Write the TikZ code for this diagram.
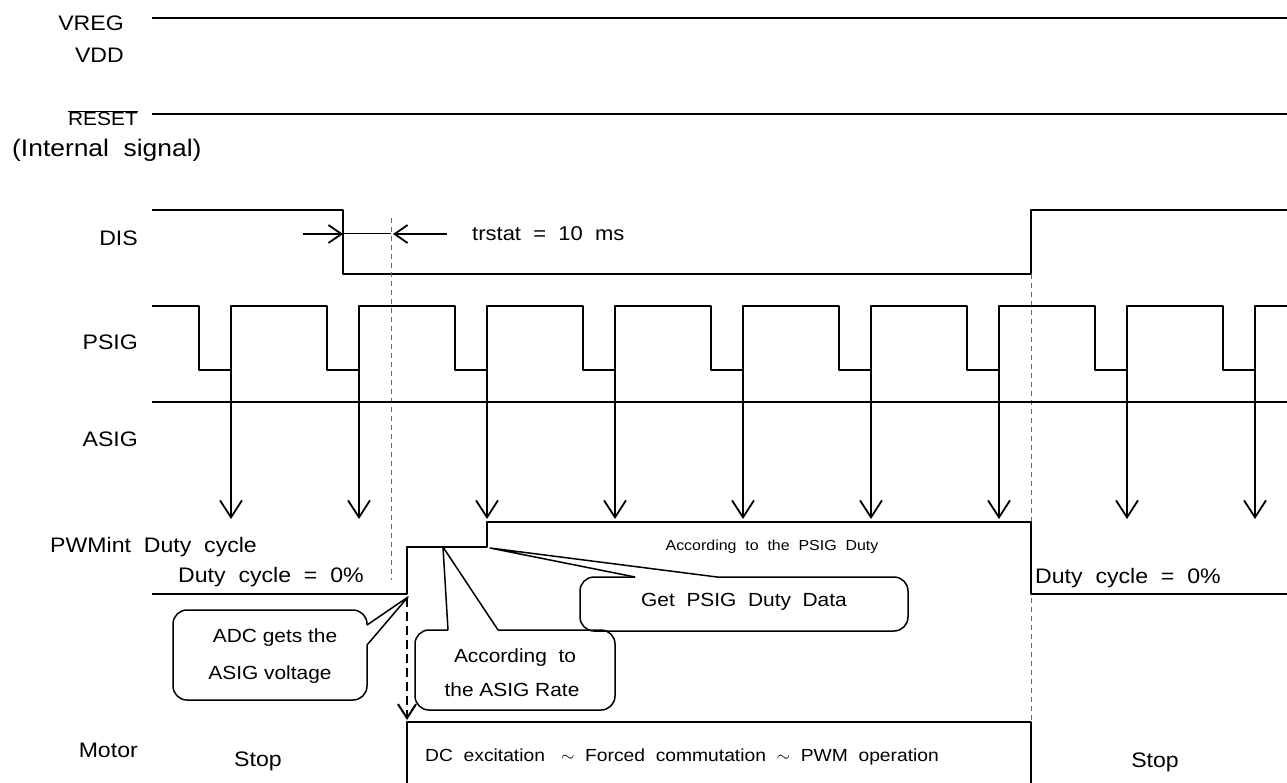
\documentclass[tikz,border=0pt]{standalone}
\usepackage{fontspec}
\setmainfont{Liberation Sans}[FakeStretch=1.1]
\usetikzlibrary{arrows.meta}
\begin{document}
\begin{tikzpicture}[x=1pt,y=-1pt,line join=round]
\tikzset{
  lab/.style={font=\fontsize{21}{25}\selectfont, inner sep=0pt},
  sig/.style={line width=2pt},
  tickarrow/.style={line width=1.8pt,-{Straight Barb[length=17pt,width=22pt]}},
  measarrow/.style={line width=1.8pt,-{Straight Barb[length=13pt,width=18pt]}},
  gdash/.style={line width=1pt,draw=black!60,dash pattern=on 5pt off 4pt},
  callout/.style={line width=1.5pt,rounded corners=14pt},
  wedge/.style={line width=1.5pt},
  ctext/.style={font=\fontsize{19}{23}\selectfont, inner sep=0pt, anchor=base},
}
\useasboundingbox (0,0) rectangle (1287,783);

% ---- labels ----
\node[lab,anchor=base east] (lvreg) at (124,31) {VREG};
\node[lab,anchor=base east] (lvdd) at (124,63) {VDD};
\node[lab,anchor=base east,font=\fontsize{19}{23}\selectfont] (lreset) at (138,126) {$\overline{\mbox{RESET}}$};
\node[lab,anchor=base west,font=\fontsize{24}{28}\selectfont] (lint) at (12,157) {(Internal\ \ signal)};
\node[lab,anchor=base east] (ldis) at (138,246) {DIS};
\node[lab,anchor=base east] (lpsig) at (138,349) {PSIG};
\node[lab,anchor=base east] (lasig) at (138,446) {ASIG};
\node[lab,anchor=base west] (lpwm) at (50,552) {PWMint\ \ Duty\ \ cycle};
\node[lab,anchor=base west] (dc0l) at (178,582) {Duty\ \ cycle\ \ =\ \ 0\%};
\node[lab,anchor=base west] (dc0r) at (1035,583) {Duty\ \ cycle\ \ =\ \ 0\%};
\node[lab,anchor=base east] (lmotor) at (138,757) {Motor};
\node[lab,anchor=base] (stopl) at (258,766) {Stop};
\node[lab,anchor=base] (stopr) at (1155,767) {Stop};
\node[lab,anchor=base west,font=\fontsize{17.5}{21}\selectfont] (dcex) at (425,761)
  {DC\ \ excitation\ \ \ $\sim$\ \ Forced\ \ commutation\ \ $\sim$\ \ PWM\ \ operation};
\node[lab,anchor=base,font=\fontsize{14.5}{18}\selectfont] (accp) at (772,550) {According\ \ to\ \ the\ \ PSIG\ \ Duty};
\node[lab,anchor=base west,font=\fontsize{20}{24}\selectfont] (trs) at (472,241) {trstat\ \ =\ \ 10\ \ ms};

% ---- supply / reset ----
\draw[sig] (152,18) -- (1287,18);
\draw[sig] (152,114) -- (1287,114);

% ---- DIS ----
\draw[sig] (152,210) -- (343,210) -- (343,274) -- (1031,274) -- (1031,210) -- (1287,210);
\coordinate (mL) at (343,234);
\coordinate (mR) at (391,234);
\coordinate (mLs) at (303,234);
\coordinate (mRs) at (447,234);
\draw[line width=1pt] (mL) -- (mR);
\draw[measarrow] (mLs) -- (mL);
\draw[measarrow] (mRs) -- ([xshift=2pt]mR);

% ---- dashed guides ----
\draw[gdash] (391,218) -- (391,580);
\draw[gdash] (1031,274) -- (1031,722);

% ---- PSIG ----
\draw[sig] (152,306) \foreach \k in {0,...,8} {
   -- ({199+128*\k},306) -- ({199+128*\k},370) -- ({231+128*\k},370) -- ({231+128*\k},306) } -- (1287,306);

% ---- ASIG ----
\draw[sig] (152,402) -- (1287,402);

% ---- sampling arrows ----
\foreach \k in {0,...,8} {
  \coordinate (ta\k) at ({231+128*\k},370);
  \coordinate (tb\k) at ({231+128*\k},519);
  \draw[tickarrow] (ta\k) -- (tb\k);
}

% ---- PWMint duty ----
\draw[sig] (152,594) -- (407,594) -- (407,547) -- (487,547) -- (487,522) -- (1031,522) -- (1031,594) -- (1287,594);

% ---- motor ----
\draw[sig] (407,783) -- (407,722) -- (1031,722) -- (1031,783);
\coordinate (dA) at (407,598);
\coordinate (dB) at (407,720);
\draw[line width=2pt,dash pattern=on 9pt off 5pt,-{Straight Barb[length=14pt,width=18pt]}] (dA) -- (dB);

% ---- callout: ADC gets the ASIG voltage ----
\coordinate (c1tip) at (408,597);
\draw[callout] (367,625) -- (367,610) -- (173,610) -- (173,700) -- (367,700) -- (367,645);
\draw[wedge] (367,625) -- (c1tip) -- (367,645);
\node[ctext] (c1a) at (275,642) {ADC gets the};
\node[ctext] (c1b) at (270,679) {ASIG voltage};

% ---- callout: According to the ASIG Rate ----
\coordinate (c2tip) at (443,547);
\draw[callout] (448,630) -- (415,630) -- (415,710) -- (615,710) -- (615,630) -- (498,630);
\draw[wedge] (448,630) -- (c2tip) -- (498,630);
\node[ctext] (c2a) at (515,662) {According\ \ to};
\node[ctext] (c2b) at (512,696) {the ASIG Rate};

% ---- callout: Get PSIG Duty Data ----
\coordinate (c3tip) at (490,548);
\draw[callout] (635,577) -- (580,577) -- (580,631) -- (908,631) -- (908,577) -- (717,577);
\draw[wedge] (635,577) -- (c3tip) -- (717,577);
\node[ctext] (c3a) at (744,606) {Get\ \ PSIG\ \ Duty\ \ Data};
\end{tikzpicture}
\end{document}
